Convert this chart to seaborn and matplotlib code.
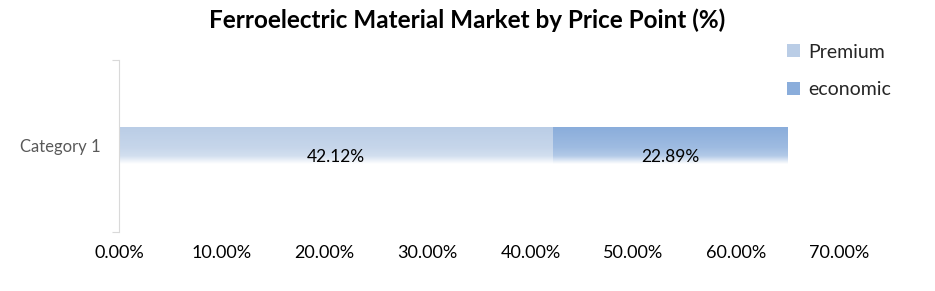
import numpy as np
import pandas as pd
import matplotlib
matplotlib.use("Agg")
import matplotlib.pyplot as plt
from matplotlib.colors import to_rgb, LinearSegmentedColormap
from matplotlib.patches import Patch
from matplotlib.ticker import FuncFormatter, FixedLocator
import seaborn as sns

categories = ["Category 1"]
series_names = ["Premium", "economic"]
premium = [42.12]
economic = [22.89]
x_ticks = [0, 10, 20, 30, 40, 50, 60, 70]

colors = {"Premium": "#bacde6", "economic": "#8aaddb"}

sns.set_theme(style="white")
plt.rcParams["font.family"] = ["Lato", "DejaVu Sans"]

fig = plt.figure(figsize=(9.35, 2.91), dpi=100)
ax = fig.add_axes([0.1273, 0.2027, 0.77, 0.5913])

df = pd.DataFrame({
    "category": categories,
    "Premium": premium,
    "economic": economic,
})
df["total"] = df["Premium"] + df["economic"]

bw = 0.21
sns.barplot(data=df, y="category", x="total", orient="h", color=colors["economic"],
            width=bw, ax=ax, zorder=1)
sns.barplot(data=df, y="category", x="Premium", orient="h", color=colors["Premium"],
            width=bw, ax=ax, zorder=2)


def grad_cmap(c):
    r, g, b = to_rgb(c)
    light = tuple(min(1, v + (1 - v) * 0.35) for v in (r, g, b))
    mid = tuple((a + b2) / 2 for a, b2 in zip((r, g, b), light))
    return LinearSegmentedColormap.from_list(
        "g", [(0, (r, g, b)), (0.55, mid), (0.78, light), (1.0, (1, 1, 1))])


grad = np.linspace(0, 1, 256).reshape(-1, 1)
for p, name, z in zip(ax.patches, ["economic", "Premium"], [1.5, 2.5]):
    x0, y0 = p.get_x(), p.get_y()
    w, h = p.get_width(), p.get_height()
    ax.imshow(grad, cmap=grad_cmap(colors[name]), aspect="auto",
              extent=(x0, x0 + w, y0 + h, y0), origin="upper", zorder=z,
              interpolation="bilinear")
    p.set_visible(False)

ax.set_xlim(0, 70)
ax.set_ylim(0.5, -0.5)
ax.set_xlabel("")
ax.set_ylabel("")
ax.xaxis.set_major_locator(FixedLocator(x_ticks))
ax.xaxis.set_major_formatter(FuncFormatter(lambda v, _: f"{v:.2f}%"))
ax.tick_params(axis="x", labelsize=13, length=0, pad=9, labelcolor="#000000")
ax.tick_params(axis="y", labelsize=12, length=0, pad=13, labelcolor="#595959")
ax.yaxis.set_minor_locator(FixedLocator([-0.5, 0.5]))
ax.tick_params(axis="y", which="minor", length=5, color="#d9d9d9", width=0.8, left=True)

for s in ["top", "right", "bottom"]:
    ax.spines[s].set_visible(False)
ax.spines["left"].set_color("#d9d9d9")
ax.spines["left"].set_linewidth(0.8)

left = 0.0
for vals in [premium, economic]:
    v = vals[0]
    ax.text(left + v / 2, 0.065, f"{v:.2f}%", ha="center", va="center",
            fontsize=12.5, color="#000000", zorder=5)
    left += v

fig.suptitle("Ferroelectric Material Market by Price Point (%)", x=0.5, y=0.972,
             fontsize=17.5, fontweight="bold", color="#000000")

handles = [Patch(facecolor=colors[n], edgecolor="none") for n in series_names]
fig.legend(handles, series_names, loc="upper left", bbox_to_anchor=(0.8335, 0.877),
           frameon=False, fontsize=14, handlelength=0.65, handleheight=0.65,
           handletextpad=0.45, labelspacing=1.05, borderaxespad=0)

fig.savefig("out.png", dpi=100)
